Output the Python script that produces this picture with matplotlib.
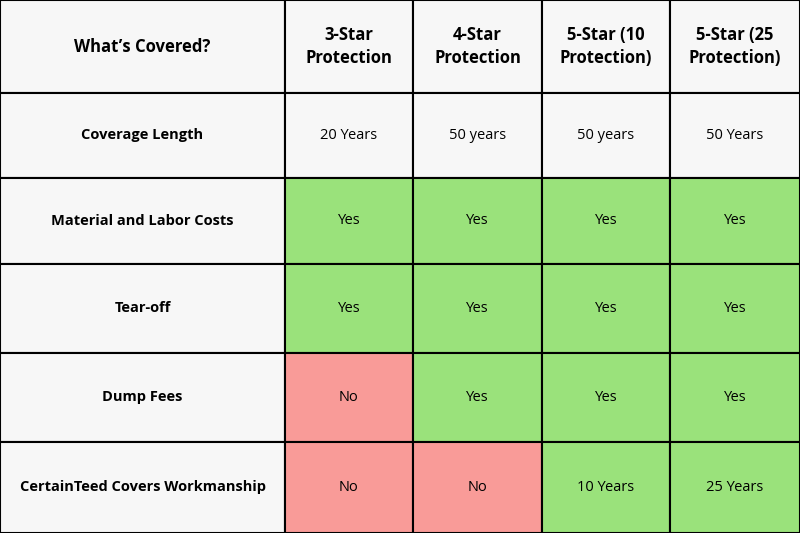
import matplotlib.pyplot as plt
from matplotlib.patches import Rectangle

# Table content
headers = ["What\u2019s Covered?", "3-Star\nProtection", "4-Star\nProtection",
           "5-Star (10\nProtection)", "5-Star (25\nProtection)"]
features = ["Coverage Length", "Material and Labor Costs", "Tear-off",
            "Dump Fees", "CertainTeed Covers Workmanship"]
three_star = ["20 Years", "Yes", "Yes", "No", "No"]
four_star = ["50 years", "Yes", "Yes", "Yes", "No"]
five_star_10 = ["50 years", "Yes", "Yes", "Yes", "10 Years"]
five_star_25 = ["50 Years", "Yes", "Yes", "Yes", "25 Years"]

col_edges = [0, 285, 413, 542, 670, 800]
row_edges = [0, 93, 178, 264, 353, 442, 533]

GREEN = "#9ae27b"
RED = "#f99b98"
BG = "#f7f7f7"

fig = plt.figure(figsize=(8, 5.33), dpi=100)
ax = fig.add_axes([0, 0, 1, 1])
ax.set_xlim(0, 800)
ax.set_ylim(533, 0)
ax.axis("off")
font = "Open Sans"

columns = [features, three_star, four_star, five_star_10, five_star_25]
rows = [headers] + [[c[i] for c in columns] for i in range(len(features))]

for r, row in enumerate(rows):
    y0, y1 = row_edges[r], row_edges[r + 1]
    for c, text in enumerate(row):
        x0, x1 = col_edges[c], col_edges[c + 1]
        if r <= 1 or c == 0:
            color = BG
        else:
            color = RED if text == "No" else GREEN
        ax.add_patch(Rectangle((x0, y0), x1 - x0, y1 - y0, facecolor=color,
                               edgecolor="black", linewidth=1.5))
        bold = r == 0 or c == 0
        ax.text((x0 + x1) / 2, (y0 + y1) / 2, text, ha="center", va="center",
                fontsize=12 if r == 0 else 10.5, family=font,
                fontweight="bold" if bold else "normal", color="black",
                linespacing=1.3)

fig.savefig("out.png", dpi=100)
